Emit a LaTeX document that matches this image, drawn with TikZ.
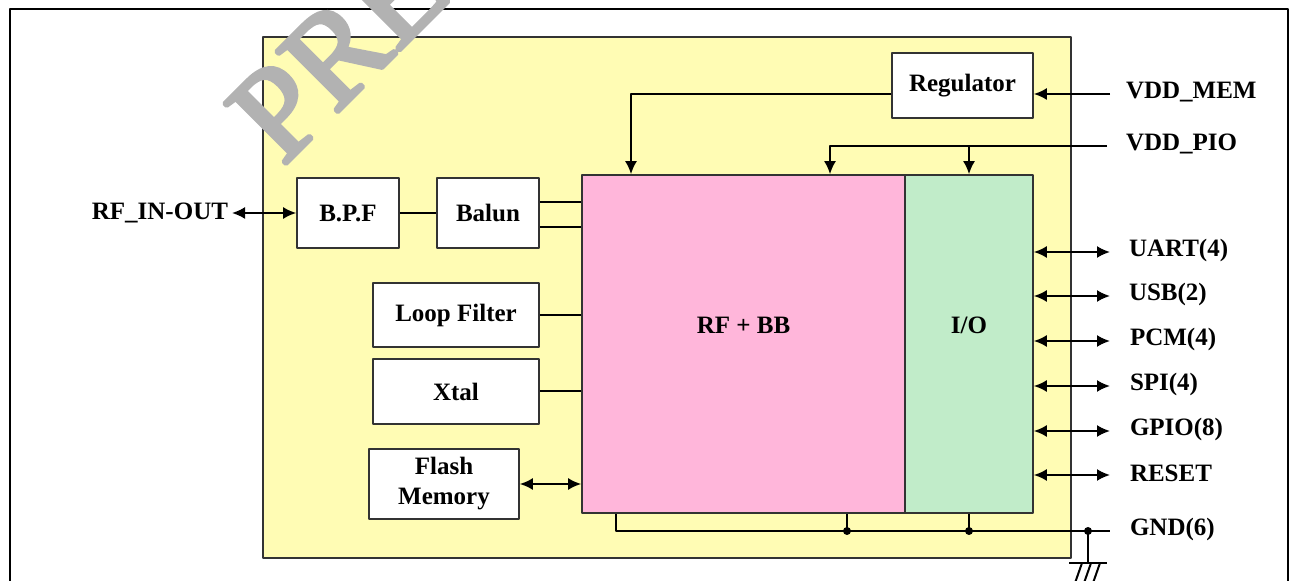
\documentclass[tikz,border=0pt]{standalone}
\usepackage{fontspec}
\setmainfont{Liberation Serif}
\newfontfamily\wmfont[FakeBold=3]{Liberation Serif}
\usepackage{tikz}
\usetikzlibrary{arrows.meta,shapes}
\definecolor{chipyellow}{RGB}{255,252,180}
\definecolor{rfpink}{RGB}{255,182,218}
\definecolor{iogreen}{RGB}{193,236,201}

\begin{document}
\begin{tikzpicture}[>={Latex[length=13bp,width=12bp]}, line join=bevel, line width=2bp,
  font=\fontsize{25bp}{30bp}\selectfont\bfseries,
  blk/.style={draw=black!80, line width=1.6bp, fill=white, inner sep=0pt, align=center},
  pad/.style={anchor=west, inner sep=0pt}]
%%
\useasboundingbox (0bp,0bp) rectangle (1298bp,581bp);
\clip (0bp,0bp) rectangle (1298bp,581bp);
\draw [line width=2.4bp] (10bp,-20bp) rectangle (1288bp,572bp);
\draw [line width=1.6bp, draw=black!80, fill=chipyellow] (263bp,23bp) rectangle (1071bp,544bp);
%
\node (REG) at (962.5bp,495.5bp) [blk, minimum width=141bp, minimum height=65bp] {Regulator};
  \node (RFBB) at (743.5bp,237bp) [blk, fill=rfpink, minimum width=323bp, minimum height=338bp, label={[yshift=19bp]center:RF + BB}] {};
  \node (IO) at (969bp,237bp) [blk, fill=iogreen, minimum width=128bp, minimum height=338bp, label={[yshift=19bp]center:I/O}] {};
  \node (BPF) at (348bp,368bp) [blk, minimum width=102bp, minimum height=70bp] {B.P.F};
  \node (BAL) at (488bp,368bp) [blk, minimum width=102bp, minimum height=70bp] {Balun};
  \node (LF) at (456bp,266bp) [blk, minimum width=166bp, minimum height=64bp] {Loop Filter};
  \node (XT) at (456bp,189.5bp) [blk, minimum width=166bp, minimum height=65bp] {Xtal};
  \node (FM) at (444bp,97bp) [blk, minimum width=150bp, minimum height=70bp] {Flash\\Memory};
%
\node (RFIO) at (229bp,368bp) [anchor=east, inner sep=0pt] {RF\_IN-OUT};
  \node (VMEM) at (1125bp,489bp) [pad] {VDD\_MEM};
  \node (VPIO) at (1125bp,437bp) [pad] {VDD\_PIO};
  \node (UART) at (1128bp,331bp) [pad] {UART(4)};
  \node (USB) at (1128bp,287bp) [pad] {USB(2)};
  \node (PCM) at (1129bp,242bp) [pad] {PCM(4)};
  \node (SPI) at (1129bp,197bp) [pad] {SPI(4)};
  \node (GPIO) at (1129bp,152bp) [pad] {GPIO(8)};
  \node (RST) at (1129bp,108bp) [pad] {RESET};
  \node (GND) at (1129bp,52bp) [pad] {GND(6)};
%
\coordinate (pmem) at (1110bp,487bp);
  \coordinate (pio) at (1107bp,435bp);
  \coordinate (puart) at (1110bp,329bp);
  \coordinate (pusb) at (1110bp,285bp);
  \coordinate (ppcm) at (1110bp,240bp);
  \coordinate (pspi) at (1110bp,195bp);
  \coordinate (pgpio) at (1110bp,150bp);
  \coordinate (prst) at (1110bp,106bp);
  \coordinate (G0) at (616bp,50bp);
  \coordinate (G1) at (847bp,50bp);
  \coordinate (G2) at (969bp,50bp);
  \coordinate (G3) at (1088bp,50bp);
  \coordinate (GE) at (1110bp,50bp);
  \coordinate (GB) at (1088bp,18bp);
%
\draw [<->, shorten <=3bp] (RFIO.east) -- (BPF.west);
  \draw (BPF) -- (BAL);
  \draw ([yshift=11bp]BAL.east) -- ([yshift=11bp]BAL.east -| RFBB.west);
  \draw ([yshift=-14bp]BAL.east) -- ([yshift=-14bp]BAL.east -| RFBB.west);
  \draw (LF.east) -- (LF.east -| RFBB.west);
  \draw (XT.east) -- (XT.east -| RFBB.west);
  \draw [<->] (FM.east) -- (FM.east -| RFBB.west);
  \draw [->] ([yshift=-8.5bp]REG.west) -| ([xshift=-112.5bp]RFBB.north);
  \draw [->] (pmem) -- (pmem -| REG.east);
  \draw [->] (pio) -| ([xshift=86.5bp]RFBB.north);
  \draw [->] (pio -| IO.north) -- (IO.north);
  \draw [<->] (puart -| IO.east) -- (puart);
  \draw [<->] (pusb -| IO.east) -- (pusb);
  \draw [<->] (ppcm -| IO.east) -- (ppcm);
  \draw [<->] (pspi -| IO.east) -- (pspi);
  \draw [<->] (pgpio -| IO.east) -- (pgpio);
  \draw [<->] (prst -| IO.east) -- (prst);
%
\draw (RFBB.south -| G0) -- (G0) -- (GE);
  \draw (RFBB.south -| G1) -- (G1);
  \draw (IO.south) -- (G2);
  \fill (G1) circle (4bp);
  \fill (G2) circle (4bp);
  \fill (G3) circle (4bp);
  \draw (G3) -- (GB);
  \draw ([xshift=-19bp]GB) -- ([xshift=19bp]GB);
  \draw ([xshift=-6bp]GB) -- ++(-7bp,-20bp);
  \draw ([xshift=3bp]GB) -- ++(-7bp,-20bp);
  \draw ([xshift=12bp]GB) -- ++(-7bp,-20bp);
%
\node (WM) at (282bp,413bp) [anchor=base west, rotate=45, inner sep=0pt, text=black!30, font=\fontsize{132bp}{132bp}\wmfont\mdseries] {PRELIMINARY};
%
\end{tikzpicture}
\end{document}
